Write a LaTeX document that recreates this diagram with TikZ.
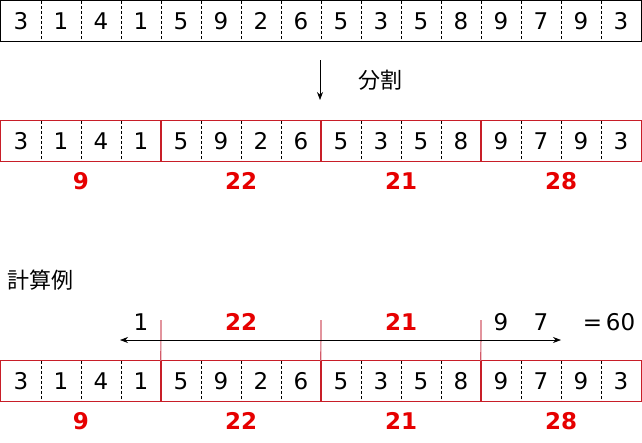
\documentclass[tikz,border=0pt]{standalone}
\usepackage{fontspec}
\setmainfont{DejaVu Sans}
\newfontfamily\jpfont{Noto Sans CJK JP}
\usepackage{xcolor}
\usetikzlibrary{
    calc,
    positioning,
    arrows.meta
}
\definecolor{boxred}{RGB}{200,30,40}
\definecolor{sumred}{RGB}{230,0,0}
\definecolor{markred}{RGB}{210,90,105}

\begin{document}
\begin{tikzpicture}[x=1pt,y=-1pt]
                  \useasboundingbox (0,0) rectangle (642,442);

                  % Styles for cells, frames and labels
                  \tikzset{
                        cell/.style={minimum width=40pt, minimum height=40pt, inner sep=0pt, font=\fontsize{23}{27}\selectfont},
                        frame/.style={line width=0.9pt, black},
                        groupbox/.style={line width=0.9pt, boxred},
                        divider/.style={dash pattern=on 3pt off 2pt, line width=0.6pt},
                        sumlabel/.style={sumred, font=\fontsize{23}{27}\selectfont\bfseries},
                        plain/.style={font=\fontsize{23}{27}\selectfont},
                        jplabel/.style={font=\jpfont\fontsize{22}{26}\selectfont},
                        marker/.style={markred, line width=1.2pt},
                        scanarrow/.style={{Stealth[length=8pt,width=6pt]}-{Stealth[length=8pt,width=6pt]}, line width=0.7pt}
                  }

                  % Input sequence (top row)
                  \foreach \d [count=\i] in {3,1,4,1,5,9,2,6,5,3,5,8,9,7,9,3} {
                        \node[cell] (top\i) at ({40*\i-19},21) {\d};
                  }
                  \foreach \i in {1,...,15} {
                        \draw[divider] (top\i.north east) -- (top\i.south east);
                  }
                  \draw[frame] (top1.north west) rectangle (top16.south east);

                  % Split arrow
                  \coordinate (splitA) at (320,60);
                  \coordinate (splitB) at (320,100);
                  \draw[-{Stealth[length=8pt,width=6pt]}, line width=0.7pt] (splitA) -- (splitB);
                  \node[jplabel] (split) at (380,80) {分割};

                  % Split sequence (middle row), blocks of four
                  \foreach \d [count=\i] in {3,1,4,1,5,9,2,6,5,3,5,8,9,7,9,3} {
                        \node[cell] (mid\i) at ({40*\i-19},141) {\d};
                  }
                  \foreach \i in {1,2,3,5,6,7,9,10,11,13,14,15} {
                        \draw[divider] (mid\i.north east) -- (mid\i.south east);
                  }
                  \draw[groupbox] (mid1.north west) rectangle (mid4.south east);
                  \draw[groupbox] (mid5.north west) rectangle (mid8.south east);
                  \draw[groupbox] (mid9.north west) rectangle (mid12.south east);
                  \draw[groupbox] (mid13.north west) rectangle (mid16.south east);

                  % Block sums
                  \node[sumlabel] (msum1) at (81,181) {9};
                  \node[sumlabel] (msum2) at (241,181) {22};
                  \node[sumlabel] (msum3) at (401,181) {21};
                  \node[sumlabel] (msum4) at (561,181) {28};

                  % Example of calculation
                  \node[jplabel] (example) at (41,280) {計算例};

                  \foreach \d [count=\i] in {3,1,4,1,5,9,2,6,5,3,5,8,9,7,9,3} {
                        \node[cell] (bot\i) at ({40*\i-19},381) {\d};
                  }
                  \foreach \i in {1,2,3,5,6,7,9,10,11,13,14,15} {
                        \draw[divider] (bot\i.north east) -- (bot\i.south east);
                  }
                  \draw[groupbox] (bot1.north west) rectangle (bot4.south east);
                  \draw[groupbox] (bot5.north west) rectangle (bot8.south east);
                  \draw[groupbox] (bot9.north west) rectangle (bot12.south east);
                  \draw[groupbox] (bot13.north west) rectangle (bot16.south east);

                  \node[sumlabel] (bsum1) at (81,421) {9};
                  \node[sumlabel] (bsum2) at (241,421) {22};
                  \node[sumlabel] (bsum3) at (401,421) {21};
                  \node[sumlabel] (bsum4) at (561,421) {28};

                  % Block borders of the queried range
                  \coordinate (mark1) at (161,320);
                  \coordinate (mark2) at (321,320);
                  \coordinate (mark3) at (481,320);
                  \draw[marker] (mark1) -- (bot5.north west);
                  \draw[marker] (mark2) -- (bot9.north west);
                  \draw[marker] (mark3) -- (bot13.north west);

                  % Queried range
                  \coordinate (rangeL) at (120,340);
                  \coordinate (rangeR) at (561,340);
                  \draw[scanarrow] (rangeL) -- (rangeR);

                  \node[plain] (part1) at (141,322) {1};
                  \node[sumlabel] (part2) at (241,322) {22};
                  \node[sumlabel] (part3) at (401,322) {21};
                  \node[plain] (part4) at (501,322) {9};
                  \node[plain] (part5) at (541,322) {7};
                  \node[plain] (total) at (609,322) {=\,60};
\end{tikzpicture}
\end{document}
